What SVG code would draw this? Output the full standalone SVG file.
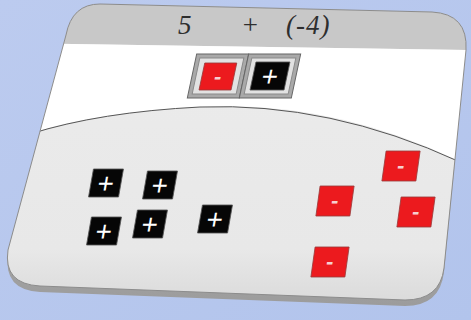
<svg xmlns="http://www.w3.org/2000/svg" width="471" height="320" viewBox="0 0 471 320">
<style>
.title{font-family:"Liberation Serif",serif;font-style:italic;font-size:27px;fill:#2e2e2e}
.plus{font-family:"Liberation Sans",sans-serif;font-size:28px;fill:#ffffff;text-anchor:middle}
.minus{font-family:"Liberation Sans",sans-serif;font-weight:bold;font-size:22px;fill:#f6d0d0;text-anchor:middle}
.blk{fill:#060606;stroke:#555;stroke-width:0.8}
.red{fill:#ec1a1e;stroke:#9a3a3a;stroke-width:0.8}
.frameOut{fill:#a9a9a9;stroke:#666;stroke-width:1}
.frameIn{fill:#e2e2e2;stroke:#8a8a8a;stroke-width:1}
</style>
<defs>
<linearGradient id="bg" x1="0" y1="0" x2="1" y2="1">
<stop offset="0" stop-color="#bccbef"/>
<stop offset="1" stop-color="#b2c4ec"/>
</linearGradient>
<linearGradient id="lower" x1="0" y1="0" x2="0" y2="1">
<stop offset="0" stop-color="#ececec"/>
<stop offset="0.78" stop-color="#e8e8e8"/>
<stop offset="1" stop-color="#d6d6d6"/>
</linearGradient>
<linearGradient id="rim" x1="0" y1="0" x2="0" y2="1">
<stop offset="0" stop-color="#c4c4c4"/>
<stop offset="1" stop-color="#9c9c9c"/>
</linearGradient>
<clipPath id="face">
<path d="M100,4 L432,12 Q468,14 466,50 L444,268 Q440,300 405,300 L40,286 Q3,284 8,250 L66,35 Q72,4 100,4 Z"/>
</clipPath>
</defs>
<rect width="471" height="320" fill="url(#bg)"/>
<g id="card">
<path d="M100,4 L432,12 Q468,14 466,50 L444,272 Q440,306 405,306 L40,292 Q3,290 8,254 L66,35 Q72,4 100,4 Z" fill="url(#rim)"/>
<g clip-path="url(#face)">
<rect x="0" y="0" width="471" height="320" fill="url(#lower)"/>
<polygon points="0,0 471,0 471,50 0,43" fill="#c8c8c8"/>
<path d="M0,43 L471,50 L471,168 L457,160 Q330,100 200,107 Q100,112 38,131 L0,145 Z" fill="#ffffff"/>
<path d="M30,134 Q100,112 200,107 Q330,102 460,162" fill="none" stroke="#555" stroke-width="1"/>
</g>
<path d="M100,4 L432,12 Q468,14 466,50 L444,268 Q440,300 405,300 L40,286 Q3,284 8,250 L66,35 Q72,4 100,4 Z" fill="none" stroke="#8c8c8c" stroke-width="1"/>
</g>
<g id="title">
<text class="title" x="178" y="34">5</text>
<text class="title" x="241" y="34">+</text>
<text class="title" x="286" y="34" letter-spacing="1">(-4)</text>
</g>
<g id="pair-minus" transform="translate(218,76) skewX(-12)">
<rect class="frameOut" x="-26" y="-22" width="52" height="44"/>
<rect class="frameIn" x="-22" y="-18" width="44" height="36"/>
<rect class="red" x="-16" y="-13" width="32" height="27"/>
<text class="minus" x="0" y="8">-</text>
</g>
<g id="pair-plus" transform="translate(270,76) skewX(-12)">
<rect class="frameOut" x="-26" y="-22" width="52" height="44"/>
<rect class="frameIn" x="-22" y="-18" width="44" height="36"/>
<rect class="blk" x="-17" y="-14" width="34" height="28"/>
<text class="plus" x="0" y="10">+</text>
</g>
<g id="plus1" transform="translate(106,183) skewX(-10)">
<rect class="blk" x="-15" y="-14" width="30" height="28"/>
<text class="plus" x="0" y="10">+</text>
</g>
<g id="plus2" transform="translate(160,185) skewX(-10)">
<rect class="blk" x="-15" y="-14" width="30" height="28"/>
<text class="plus" x="0" y="10">+</text>
</g>
<g id="plus3" transform="translate(104,231) skewX(-10)">
<rect class="blk" x="-15" y="-14" width="30" height="28"/>
<text class="plus" x="0" y="10">+</text>
</g>
<g id="plus4" transform="translate(150,224) skewX(-10)">
<rect class="blk" x="-15" y="-14" width="30" height="28"/>
<text class="plus" x="0" y="10">+</text>
</g>
<g id="plus5" transform="translate(215,219) skewX(-10)">
<rect class="blk" x="-15" y="-14" width="30" height="28"/>
<text class="plus" x="0" y="10">+</text>
</g>
<g id="minus1" transform="translate(401,166) skewX(-8)">
<rect class="red" x="-17" y="-15" width="34" height="30"/>
<text class="minus" x="0" y="7">-</text>
</g>
<g id="minus2" transform="translate(335,201) skewX(-8)">
<rect class="red" x="-17" y="-15" width="34" height="30"/>
<text class="minus" x="0" y="7">-</text>
</g>
<g id="minus3" transform="translate(416,212) skewX(-8)">
<rect class="red" x="-17" y="-15" width="34" height="30"/>
<text class="minus" x="0" y="7">-</text>
</g>
<g id="minus4" transform="translate(330,262) skewX(-8)">
<rect class="red" x="-17" y="-15" width="34" height="30"/>
<text class="minus" x="0" y="7">-</text>
</g>
</svg>
